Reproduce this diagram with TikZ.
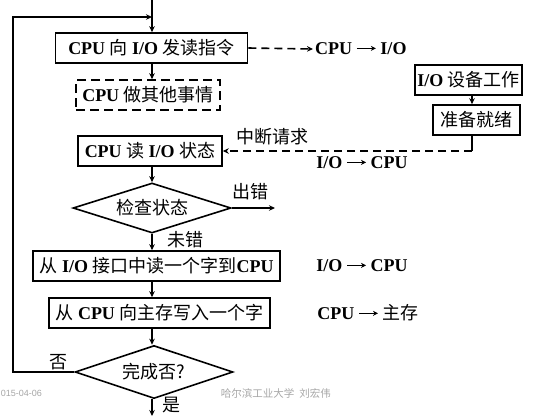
\documentclass[tikz,border=0pt]{standalone}
\usepackage{fontspec}
\setmainfont{Liberation Serif}
\setsansfont{Liberation Sans}
\newfontfamily\cjk{Noto Sans CJK SC}
\newcommand{\zh}[1]{{\cjk\mdseries #1}}
\newcommand{\toarr}{\hspace{4pt}\tikz[x=1pt,y=1pt,baseline=-6.5pt]\draw[line width=1.3pt,-{Stealth[length=5pt,width=5pt]}] (0,0) -- (19,0);\hspace{4pt}}
\usetikzlibrary{arrows.meta,positioning,shapes.geometric,calc}

\begin{document}
\begin{tikzpicture}[x=1pt,y=-1pt,
  line width=1.6pt,
  >={Stealth[length=6pt,width=5.5pt]},
  txt/.style={font=\fontsize{18}{20}\selectfont\bfseries,inner sep=2pt},
  stepbox/.style={txt,draw,minimum height=30pt,inner sep=0pt},
  dashbox/.style={stepbox,dash pattern=on 9pt off 5pt},
  testbox/.style={txt,draw,diamond,aspect=3,inner sep=0pt},
  flow/.style={dash pattern=on 8pt off 5pt},
  foot/.style={font=\fontsize{10.5}{12}\selectfont,text=gray!70,inner sep=0pt}]
\useasboundingbox (0,0) rectangle (533,416);
% main column
\coordinate (start) at (152,0);
\node[stepbox,minimum width=192pt] (send) at (151.5,48) {CPU \zh{向} I/O \zh{发读指令}};
\node[dashbox,minimum width=144pt] (other) at (148,95) {CPU \zh{做其他事情}};
\node[stepbox,minimum width=144pt] (read) at (150,151) {CPU \zh{读} I/O \zh{状态}};
\node[testbox,minimum width=158pt,minimum height=50pt] (check) at (152,208) {\zh{检查状态}};
\node[stepbox,minimum width=247pt] (fetch) at (156.5,266) {\zh{从} I/O \zh{接口中读一个字到}CPU};
\node[stepbox,minimum width=221pt] (store) at (159.5,313) {\zh{从} CPU \zh{向主存写入一个字}};
\node[testbox,minimum width=158pt,minimum height=53pt] (done) at (154,372) {\zh{完成否?}};
\coordinate (stop) at (152,416);
\coordinate (loop) at (13,17);
\coordinate (join) at (152,17);
\coordinate (err) at (275,208);
% device side
\node[stepbox,minimum width=107pt] (dev) at (468.5,80) {I/O \zh{设备工作}};
\node[stepbox,minimum width=87pt] (ready) at (476.5,120) {\zh{准备就绪}};
\coordinate (turn) at (472,151);
% data transfers
\node[txt,anchor=west] (cmd) at (313,49) {CPU\toarr I/O};
\node[txt] (irq) at (272,137) {\zh{中断请求}};
\node[txt] (stat) at (362,163) {I/O\toarr CPU};
\node[txt] (word) at (362,266) {I/O\toarr CPU};
\node[txt] (mem) at (368,313) {CPU\toarr \zh{主存}};
% branch labels
\node[txt] (lerr) at (250,192) {\zh{出错}};
\node[txt] (lok) at (185,240) {\zh{未错}};
\node[txt] (lno) at (58,362) {\zh{否}};
\node[txt] (lyes) at (171,405) {\zh{是}};
% connectors
\draw[->] (start) -- (send.north -| start);
\draw[->] (send.south -| start) -- (other.north -| start);
\draw[->] (read.south -| start) -- (check.north);
\draw[->] (check.south) -- (fetch.north -| start);
\draw[->] (fetch.south -| start) -- (store.north -| start);
\draw[->] (store.south -| start) -- (done.north -| start);
\draw[->] (done.south -| start) -- (stop);
\draw[->] (check.east) -- (err);
\draw[->] (done.west) -| (loop) -- (join);
\draw[flow,->] (send.east) -- (cmd.west);
\draw[->] (dev.south -| turn) -- (ready.north -| turn);
\draw (ready.south -| turn) -- (turn);
\draw[flow,->] (turn) -- (read.east);
% slide footer
\node[foot,font=\sffamily\fontsize{9}{11}\selectfont,anchor=west] (date) at (0,393) {015-04-06};
\node[foot,anchor=west] (inst) at (220,393) {\zh{哈尔滨工业大学}\hspace{5pt}\zh{刘宏伟}};
\end{tikzpicture}
\end{document}
